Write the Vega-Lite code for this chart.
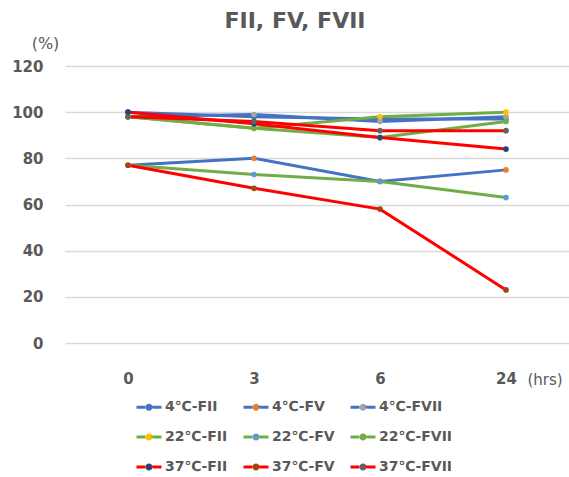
{
  "$schema": "https://vega.github.io/schema/vega-lite/v6.json",
  "width": 504,
  "height": 277,
  "autosize": {"type": "none"},
  "padding": {"left": 65, "top": 66, "right": 0, "bottom": 134},
  "background": "white",
  "title": {"text": "FII, FV, FVII", "font": "DejaVu Sans", "fontSize": 22, "fontWeight": "bold", "color": "#595959", "anchor": "middle", "frame": "group", "dx": -22, "offset": 2},
  "config": {
    "view": {"stroke": null},
    "legend": {
      "orient": "none",
      "legendX": 70,
      "legendY": 327,
      "columns": 3,
      "direction": "horizontal",
      "title": null,
      "symbolType": "M-1,0L-0.28,0A0.28,0.28,0,0,1,0.28,0L1,0L0.28,0A0.28,0.28,0,0,1,-0.28,0Z",
      "symbolSize": 625,
      "symbolStrokeWidth": 3,
      "symbolDash": [9, 11, 18, 11, 10],
      "labelFont": "DejaVu Sans",
      "labelFontSize": 14,
      "labelFontWeight": "bold",
      "labelColor": "#595959",
      "labelOffset": 2,
      "columnPadding": 9,
      "rowPadding": 6,
      "padding": 0
    }
  },
  "data": {"values": [
    {"series": "4℃-FII", "time": "0", "value": 100},
    {"series": "4℃-FII", "time": "3", "value": 98},
    {"series": "4℃-FII", "time": "6", "value": 97},
    {"series": "4℃-FII", "time": "24", "value": 97},
    {"series": "4℃-FV", "time": "0", "value": 77},
    {"series": "4℃-FV", "time": "3", "value": 80},
    {"series": "4℃-FV", "time": "6", "value": 70},
    {"series": "4℃-FV", "time": "24", "value": 75},
    {"series": "4℃-FVII", "time": "0", "value": 98},
    {"series": "4℃-FVII", "time": "3", "value": 99},
    {"series": "4℃-FVII", "time": "6", "value": 96},
    {"series": "4℃-FVII", "time": "24", "value": 98},
    {"series": "22℃-FII", "time": "0", "value": 98},
    {"series": "22℃-FII", "time": "3", "value": 93},
    {"series": "22℃-FII", "time": "6", "value": 98},
    {"series": "22℃-FII", "time": "24", "value": 100},
    {"series": "22℃-FV", "time": "0", "value": 77},
    {"series": "22℃-FV", "time": "3", "value": 73},
    {"series": "22℃-FV", "time": "6", "value": 70},
    {"series": "22℃-FV", "time": "24", "value": 63},
    {"series": "22℃-FVII", "time": "0", "value": 98},
    {"series": "22℃-FVII", "time": "3", "value": 93},
    {"series": "22℃-FVII", "time": "6", "value": 89},
    {"series": "22℃-FVII", "time": "24", "value": 96},
    {"series": "37℃-FII", "time": "0", "value": 100},
    {"series": "37℃-FII", "time": "3", "value": 95},
    {"series": "37℃-FII", "time": "6", "value": 89},
    {"series": "37℃-FII", "time": "24", "value": 84},
    {"series": "37℃-FV", "time": "0", "value": 77},
    {"series": "37℃-FV", "time": "3", "value": 67},
    {"series": "37℃-FV", "time": "6", "value": 58},
    {"series": "37℃-FV", "time": "24", "value": 23},
    {"series": "37℃-FVII", "time": "0", "value": 98},
    {"series": "37℃-FVII", "time": "3", "value": 96},
    {"series": "37℃-FVII", "time": "6", "value": 92},
    {"series": "37℃-FVII", "time": "24", "value": 92}
  ]},
  "encoding": {
    "x": {
      "field": "time", "type": "ordinal", "sort": ["0", "3", "6", "24"],
      "scale": {"type": "point", "padding": 0.5},
      "axis": {
        "title": "(hrs)", "titleFont": "DejaVu Sans", "titleFontSize": 15, "titleFontWeight": "normal", "titleColor": "#595959",
        "titleAngle": 0, "titleX": 462, "titleY": 41, "titleAlign": "left", "titleBaseline": "alphabetic",
        "labelAngle": 0, "labelFont": "DejaVu Sans", "labelFontSize": 15, "labelFontWeight": "bold", "labelColor": "#595959",
        "labelPadding": 28, "ticks": false, "tickSize": 0, "domain": false, "grid": false
      }
    },
    "y": {
      "field": "value", "type": "quantitative",
      "scale": {"domain": [0, 120], "nice": false},
      "axis": {
        "values": [0, 20, 40, 60, 80, 100, 120],
        "title": "(%)", "titleFont": "DejaVu Sans", "titleFontSize": 16, "titleFontWeight": "normal", "titleColor": "#595959",
        "titleAngle": 0, "titleX": -20, "titleY": -18, "titleAlign": "center", "titleBaseline": "alphabetic",
        "labelFont": "DejaVu Sans", "labelFontSize": 15, "labelFontWeight": "bold", "labelColor": "#595959",
        "labelPadding": 22, "ticks": false, "tickSize": 0, "domain": false,
        "grid": true, "gridColor": "#D9D9D9", "gridWidth": 1.3
      }
    }
  },
  "layer": [
    {
      "mark": {"type": "line", "strokeWidth": 3},
      "encoding": {
        "stroke": {
          "field": "series", "type": "nominal",
          "scale": {
            "domain": ["4℃-FII", "4℃-FV", "4℃-FVII", "22℃-FII", "22℃-FV", "22℃-FVII", "37℃-FII", "37℃-FV", "37℃-FVII"],
            "range": ["#4472C4", "#4472C4", "#4472C4", "#70AD47", "#70AD47", "#70AD47", "#FF0000", "#FF0000", "#FF0000"]
          }
        }
      }
    },
    {
      "mark": {"type": "point", "filled": true, "size": 32, "opacity": 1},
      "encoding": {
        "fill": {
          "field": "series", "type": "nominal",
          "scale": {
            "domain": ["4℃-FII", "4℃-FV", "4℃-FVII", "22℃-FII", "22℃-FV", "22℃-FVII", "37℃-FII", "37℃-FV", "37℃-FVII"],
            "range": ["#4472C4", "#ED7D31", "#A5A5A5", "#FFC000", "#5B9BD5", "#70AD47", "#264478", "#9E480E", "#636363"]
          }
        }
      }
    }
  ]
}
